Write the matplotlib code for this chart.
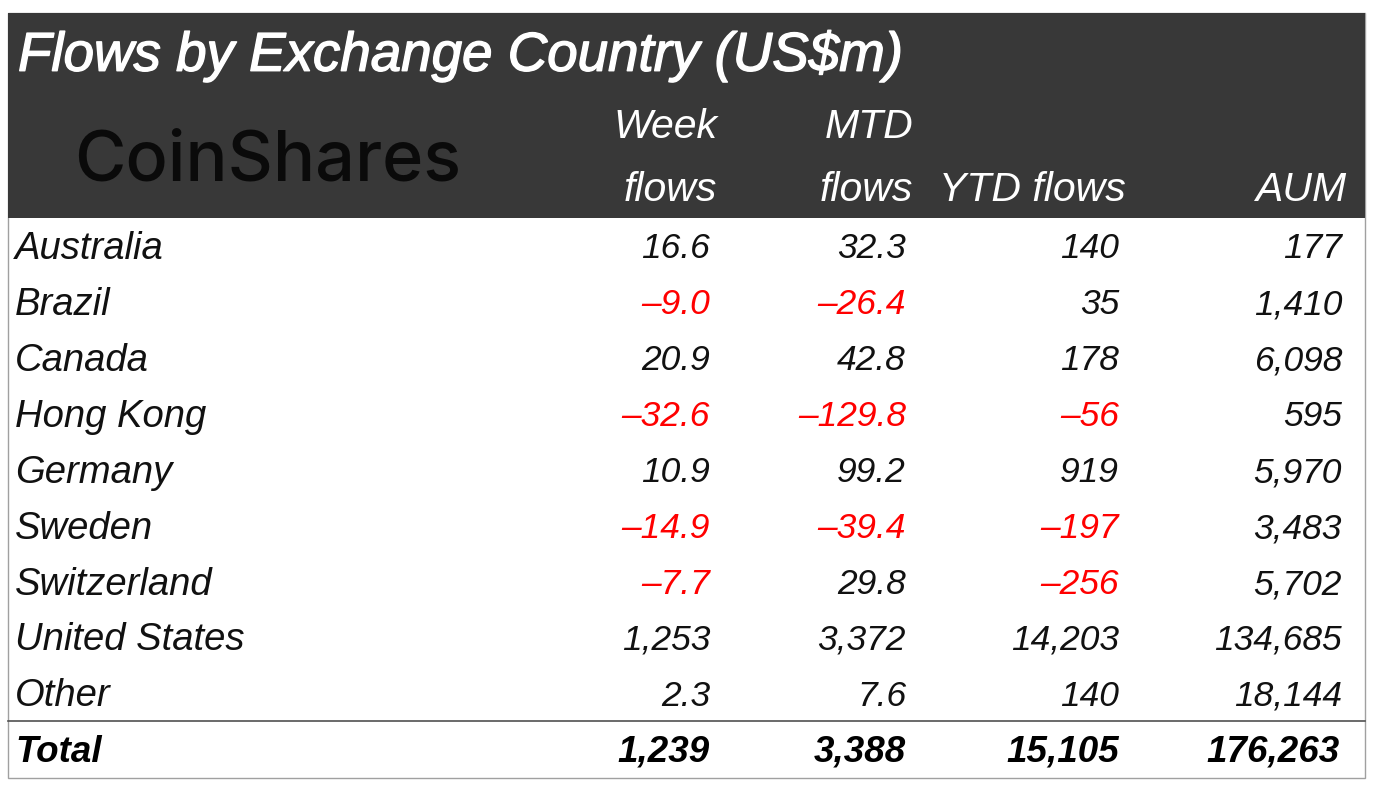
import matplotlib
matplotlib.use("Agg")
import matplotlib.pyplot as plt
import matplotlib.patheffects as pe
from matplotlib.patches import Rectangle

plt.rcParams['font.family'] = ['Liberation Sans', 'DejaVu Sans']

# table contents
title = "Flows by Exchange Country (US$m)"
countries = ["Australia", "Brazil", "Canada", "Hong Kong", "Germany", "Sweden", "Switzerland", "United States", "Other"]
week = ["16.6", "-9.0", "20.9", "-32.6", "10.9", "-14.9", "-7.7", "1,253", "2.3"]
mtd = ["32.3", "-26.4", "42.8", "-129.8", "99.2", "-39.4", "29.8", "3,372", "7.6"]
ytd = ["140", "35", "178", "-56", "919", "-197", "-256", "14,203", "140"]
aum = ["177", "1,410", "6,098", "595", "5,970", "3,483", "5,702", "134,685", "18,144"]
totals = ["1,239", "3,388", "15,105", "176,263"]

W, H = 1381, 790
fig = plt.figure(figsize=(W/100, H/100), dpi=100)
ax = fig.add_axes([0, 0, 1, 1])
ax.set_xlim(0, W)
ax.set_ylim(H, 0)
ax.axis('off')

# outer box and dark header
ax.add_patch(Rectangle((8, 13), 1357, 765, fc='white', ec='#a0a0a0', lw=1))
ax.add_patch(Rectangle((8, 13), 1357, 205, fc='#383838', ec='none'))
ax.plot([8, 1365], [721, 721], color='#505050', lw=1.2)

t = ax.text(18, 56, title, color='white', fontsize=39.4, fontstyle='italic', va='center', ha='left')
t.set_path_effects([pe.withStroke(linewidth=1.0, foreground='white')])
ax.text(74, 162, "CoinShares", color='#0a0a0a', fontsize=50.5, fontfamily='Inter', fontweight='medium', va='center', ha='left')

hdr = dict(color='white', fontsize=29.5, fontstyle='italic', va='center', ha='right')
ax.text(717, 127, "Week", **hdr)
ax.text(717, 190, "flows", **hdr)
ax.text(913, 127, "MTD", **hdr)
ax.text(913, 190, "flows", **hdr)
ax.text(1126, 190, "YTD flows", **hdr)
ax.text(1346, 190, "AUM", **hdr)

col_x = [710, 906, 1119, 1342]
row_y = [249, 305, 361, 417, 473, 529, 585, 640, 696]
name_size = 27.5
num_size = 25.5

for i, name in enumerate(countries):
    ax.text(15, row_y[i], name, color='#111111', fontsize=name_size, fontstyle='italic', va='center', ha='left')
    for x, col in zip(col_x, [week, mtd, ytd, aum]):
        v = col[i]
        c = '#ff0000' if v.startswith('-') else '#111111'
        ax.text(x, row_y[i], v.replace('-', '\u2013'), color=c, fontsize=num_size, fontstyle='italic', va='center', ha='right')

ax.text(15, 752, "Total", color='black', fontsize=26.5, fontstyle='italic', fontweight='bold', va='center', ha='left')
for x, v in zip([710, 906, 1119, 1340], totals):
    ax.text(x, 752, v, color='black', fontsize=26.5, fontstyle='italic', fontweight='bold', va='center', ha='right')

fig.savefig("out.png", dpi=100)
